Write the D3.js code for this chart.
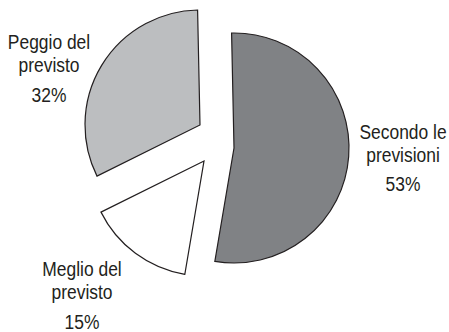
<!DOCTYPE html>
<html>
<head>
<meta charset="utf-8">
<script src="https://cdn.jsdelivr.net/npm/d3@7"></script>
<style>
  html, body { margin: 0; padding: 0; background: #fff; }
  svg { display: block; }
  text { font-family: "Liberation Sans", Arial, sans-serif; font-size: 21px; fill: #231f20; }
</style>
</head>
<body>
<svg id="chart" width="449" height="332"></svg>
<script>
// ---- data ----
const categories = ["Secondo le previsioni", "Meglio del previsto", "Peggio del previsto"];
const values = [53, 15, 32];
const labelLines = [["Secondo le", "previsioni"], ["Meglio del", "previsto"], ["Peggio del", "previsto"]];
const percentLabels = ["53%", "15%", "32%"];

// ---- styles / layout ----
const colors = ["#808285", "#ffffff", "#bcbec0"];
const center = [221, 137];
const radius = 115;
const startDeg = -1.2;
// explosion offset of each slice (px)
const explode = [[13, 11], [-17, 24], [-21, -12]];
// label anchor (center x, first baseline y)
const labelPos = [[403, 138.5], [82, 276], [49, 48.5]];
const lineGap = 23;
const pctGap = [29, 30, 30.5];
const narrow = 0.83;

const svg = d3.select("#chart");

const pie = d3.pie().sort(null).value(d => d)
  .startAngle(startDeg * Math.PI / 180)
  .endAngle(startDeg * Math.PI / 180 + 2 * Math.PI);
const arcs = pie(values);
const arc = d3.arc().innerRadius(0).outerRadius(radius);

svg.append("g").selectAll("path")
  .data(arcs)
  .join("path")
  .attr("transform", (d, i) => `translate(${center[0] + explode[i][0]},${center[1] + explode[i][1]})`)
  .attr("d", arc)
  .attr("fill", (d, i) => colors[i])
  .attr("stroke", "#231f20")
  .attr("stroke-width", 1.2)
  .attr("stroke-linejoin", "miter");

const lg = svg.append("g");
categories.forEach((c, i) => {
  const [x, y] = labelPos[i];
  const lines = labelLines[i].map((t, j) => [t, y + j * lineGap]);
  lines.push([percentLabels[i], y + (labelLines[i].length - 1) * lineGap + pctGap[i]]);
  lines.forEach(([t, yy]) => {
    lg.append("text")
      .attr("transform", `translate(${x},${yy}) scale(${narrow},1)`)
      .attr("text-anchor", "middle").text(t);
  });
});
</script>
</body>
</html>
